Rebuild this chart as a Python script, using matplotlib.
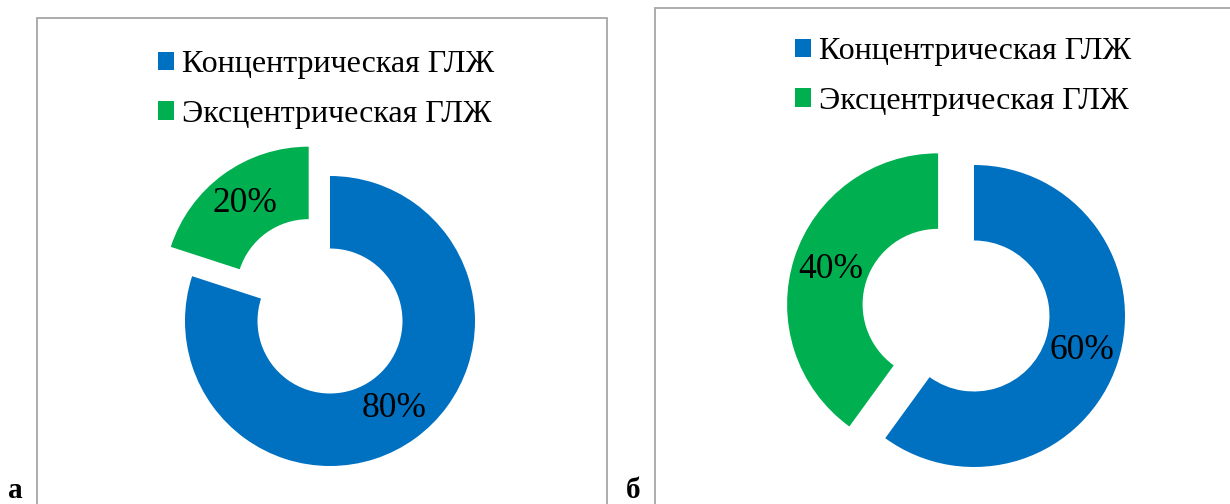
import matplotlib.pyplot as plt
from matplotlib.patches import Rectangle

plt.rcParams['font.family'] = ['Liberation Serif', 'DejaVu Serif']

categories = ['Концентрическая ГЛЖ', 'Эксцентрическая ГЛЖ']
values_a = [80, 20]
values_b = [60, 40]
colors = ['#0070C0', '#00B050']
panel_letters = ['а', 'б']

W, H = 1230, 504
fig = plt.figure(figsize=(W / 100, H / 100), dpi=100)


def px_axes(cx, cy, side):
    return fig.add_axes([(cx - side / 2) / W, (H - cy - side / 2) / H, side / W, side / H])


def donut(ax, values, radius_px, side):
    lim = side / 2 / radius_px
    wedges, _, autotexts = ax.pie(values, colors=colors, startangle=90, counterclock=False,
                                  explode=[0, 0.25], autopct='%d%%', pctdistance=0.75,
                                  wedgeprops=dict(width=0.5, linewidth=0),
                                  textprops=dict(fontsize=25.5, color='black'))
    ax.set_xlim(-lim, lim)
    ax.set_ylim(-lim, lim)
    ax.set_aspect('equal')
    ax.axis('off')
    return wedges


# panel frames
fig.add_artist(Rectangle((37 / W, -0.1), (607 - 37) / W, 1.1 - 18 / H, transform=fig.transFigure,
                         fill=False, edgecolor='#A6A6A6', lw=1.3))
fig.add_artist(Rectangle((655 / W, -0.1), 0.6, 1.1 - 8 / H, transform=fig.transFigure,
                         fill=False, edgecolor='#A6A6A6', lw=1.3))

side = 440
ax1 = px_axes(330, 321, side)
w1 = donut(ax1, values_a, 145, side)
ax2 = px_axes(974, 316, side)
w2 = donut(ax2, values_b, 151, side)

for ax, wedges, (lx, ly) in [(ax1, w1, (158, 50)), (ax2, w2, (795, 37))]:
    ax.legend(wedges, categories, loc='upper left', bbox_to_anchor=(lx / W, 1 - ly / H),
              bbox_transform=fig.transFigure, frameon=False, fontsize=23,
              handlelength=0.5, handleheight=0.5, handletextpad=0.25,
              labelspacing=0.65, borderpad=0, borderaxespad=0)

fig.text(15 / W, 1 - 490 / H, panel_letters[0], fontsize=21, fontweight='bold', ha='center', va='center')
fig.text(633 / W, 1 - 490 / H, panel_letters[1], fontsize=21, fontweight='bold', ha='center', va='center')

fig.savefig('out.png', dpi=100)
